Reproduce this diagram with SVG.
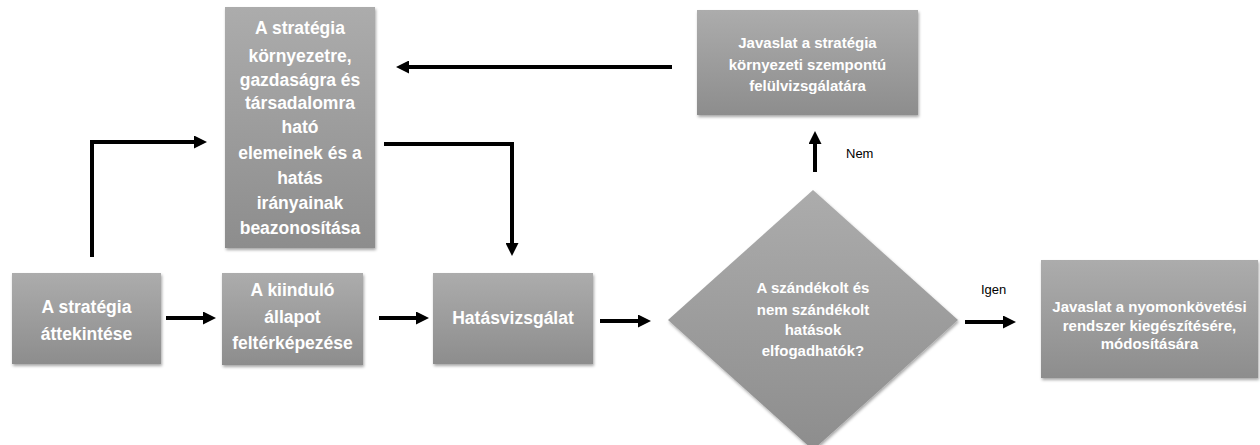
<svg xmlns="http://www.w3.org/2000/svg" width="1260" height="445" viewBox="0 0 1260 445">
<defs>
<linearGradient id="g" x1="0" y1="0" x2="0" y2="1">
<stop offset="0" stop-color="#acacac"/>
<stop offset="1" stop-color="#8d8d8d"/>
</linearGradient>
<filter id="sh" x="-10%" y="-10%" width="120%" height="125%">
<feDropShadow dx="1" dy="2" stdDeviation="1.5" flood-color="#000" flood-opacity="0.35"/>
</filter>
<marker id="ah" markerUnits="userSpaceOnUse" markerWidth="13" markerHeight="13" refX="2" refY="6.5" orient="auto">
<path d="M0,0 L13,6.5 L0,13 z" fill="#000"/>
</marker>
<style>
.box{fill:url(#g);filter:url(#sh);}
.t{font-family:"Liberation Sans",Arial,sans-serif;font-weight:bold;fill:#fff;text-anchor:middle;}
.t17{font-size:17.5px;}
.t14{font-size:15px;}
.lbl{font-family:"Liberation Sans",Arial,sans-serif;font-size:13px;fill:#000;}
.c{fill:none;stroke:#000;stroke-width:4;marker-end:url(#ah);}
</style>
</defs>
<rect width="1260" height="445" fill="#fff"/>

<g id="n1">
<rect class="box" x="12" y="273" width="149" height="91"/>
<text class="t t17" x="86.5" y="313">A stratégia</text>
<text class="t t17" x="86.5" y="340">áttekintése</text>
</g>

<g id="n2">
<rect class="box" x="222" y="273" width="141" height="92"/>
<text class="t t17" x="292.5" y="296">A kiinduló</text>
<text class="t t17" x="292.5" y="323">állapot</text>
<text class="t t17" x="292.5" y="349">feltérképezése</text>
</g>

<g id="n3">
<rect class="box" x="433" y="273" width="160" height="91"/>
<text class="t t17" x="513" y="324">Hatásvizsgálat</text>
</g>

<g id="n4">
<rect class="box" x="225" y="7" width="150" height="241"/>
<text class="t t17" x="300" y="34">A stratégia</text>
<text class="t t17" x="300" y="62">környezetre,</text>
<text class="t t17" x="300" y="86">gazdaságra és</text>
<text class="t t17" x="300" y="109">társadalomra</text>
<text class="t t17" x="300" y="133">ható</text>
<text class="t t17" x="300" y="159">elemeinek és a</text>
<text class="t t17" x="300" y="184">hatás</text>
<text class="t t17" x="300" y="209">irányainak</text>
<text class="t t17" x="300" y="234">beazonosítása</text>
</g>

<g id="n5">
<rect class="box" x="697" y="10" width="221" height="105"/>
<text class="t t14" x="807.5" y="48">Javaslat a stratégia</text>
<text class="t t14" x="807.5" y="70">környezeti szempontú</text>
<text class="t t14" x="807.5" y="91">felülvizsgálatára</text>
</g>

<g id="n6">
<polygon class="box" points="813,190 958,320 813,450 668,320"/>
<text class="t t14" x="813" y="293">A szándékolt és</text>
<text class="t t14" x="813" y="315">nem szándékolt</text>
<text class="t t14" x="813" y="335">hatások</text>
<text class="t t14" x="813" y="356">elfogadhatók?</text>
</g>

<g id="n7">
<rect class="box" x="1041" y="260" width="217" height="118"/>
<text class="t t14" x="1149.5" y="312">Javaslat a nyomonkövetési</text>
<text class="t t14" x="1149.5" y="331">rendszer kiegészítésére,</text>
<text class="t t14" x="1149.5" y="349">módosítására</text>
</g>

<g id="connectors">
<path class="c" d="M166,318 H205"/>
<path class="c" d="M379,318 H418"/>
<path class="c" d="M600,321 H640"/>
<path class="c" d="M965,322 H1005"/>
<path class="c" d="M815,172 V142"/>
<path class="c" d="M672,67 H407"/>
<path class="c" d="M92,257 V142 H196"/>
<path class="c" d="M384,144 H512 V245"/>
<text class="lbl" x="846" y="158">Nem</text>
<text class="lbl" x="981" y="294">Igen</text>
</g>
</svg>
